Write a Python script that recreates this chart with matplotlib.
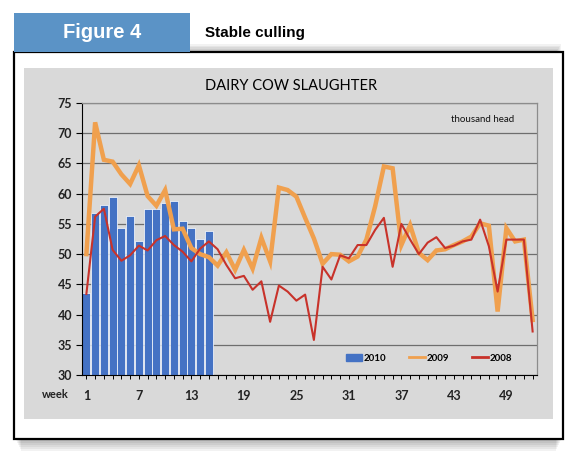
import matplotlib
matplotlib.use("Agg")
import matplotlib.pyplot as plt
from matplotlib.patches import Rectangle
from matplotlib.lines import Line2D

W, H = 575, 463

weeks = list(range(1, 53))
weeks_2010 = list(range(1, 16))
cull_2010 = [43.6, 56.8, 58.2, 59.5, 54.4, 56.3, 52.1, 57.4, 57.4, 58.5,
             58.8, 55.5, 54.4, 52.5, 53.8]
cull_2009 = [50.0, 71.8, 65.6, 65.3, 63.2, 61.6, 64.7, 59.6, 58.0, 60.6,
             54.1, 54.2, 51.0, 50.0, 49.5, 48.1, 50.3, 47.4, 50.7, 47.6,
             52.7, 48.8, 61.0, 60.6, 59.5, 56.0, 52.6, 48.4, 50.0, 49.9,
             48.8, 49.6, 52.4, 57.9, 64.5, 64.2, 51.5, 54.8, 50.2, 49.0,
             50.6, 50.8, 51.5, 52.1, 52.9, 55.1, 54.7, 40.5, 54.3, 52.1,
             52.4, 39.1]
cull_2008 = [43.4, 56.2, 57.5, 50.7, 48.9, 49.8, 51.4, 50.6, 52.3, 53.0,
             51.5, 50.4, 48.8, 50.9, 52.1, 50.8, 48.2, 46.0, 46.4, 44.1,
             45.5, 38.8, 44.8, 43.8, 42.3, 43.3, 35.8, 47.9, 45.8, 49.8,
             49.3, 51.5, 51.5, 54.0, 56.0, 47.9, 55.0, 52.4, 50.0, 51.9,
             52.8, 51.0, 51.4, 52.1, 52.4, 55.7, 51.3, 43.8, 52.4, 52.4,
             52.4, 37.2]
yticks = list(range(30, 80, 5))
xlabels = [1, 7, 13, 19, 25, 31, 37, 43, 49]

BLUE = "#4472C4"
ORANGE = "#F0A04E"
RED = "#C8322A"
PANEL = "#D9D9D9"


def box(x0, y0, x1, y1):
    # pixel box (top-left origin) -> figure fraction rect args
    return (x0 / W, 1 - y1 / H), (x1 - x0) / W, (y1 - y0) / H


def add_rect(x0, y0, x1, y1, **kw):
    xy, w, h = box(x0, y0, x1, y1)
    fig.add_artist(Rectangle(xy, w, h, transform=fig.transFigure,
                             zorder=-10, **kw))


fig = plt.figure(figsize=(W / 100, H / 100), dpi=100)
fig.patch.set_facecolor("white")

# soft shadow under the frame
for i in range(6):
    add_rect(16 + i, 44 + i * 1.5, 561 - i, 441 + i * 2,
             facecolor="#000000", alpha=0.05, lw=0)

add_rect(14, 52, 563, 439, facecolor="white", edgecolor="black", lw=1.6)

# header tab
add_rect(14, 13, 190, 52, facecolor="#5B93C6", lw=0)
fig.text(102 / W, 1 - 33 / H, "Figure 4", color="white", fontsize=14.5,
         fontweight="bold", family="Liberation Sans", ha="center", va="center")
fig.text(205 / W, 1 - 33 / H, "Stable culling", color="black", fontsize=11,
         fontweight="bold", family="Liberation Sans", ha="left", va="center")

# chart panel
add_rect(24, 68, 553, 419, facecolor=PANEL, lw=0)

ax = fig.add_axes([82 / W, 1 - 375 / H, (537 - 82) / W, (375 - 103) / H])
ax.set_facecolor(PANEL)

ax.bar(weeks_2010, cull_2010, width=0.92, bottom=0, color=BLUE,
       edgecolor="white", linewidth=0.5, zorder=2)
ax.plot(weeks, cull_2009, color=ORANGE, lw=3.2, zorder=3,
        solid_joinstyle="miter")
ax.plot(weeks, cull_2008, color=RED, lw=1.5, zorder=4)

ax.set_xlim(0.5, 52.5)
ax.set_ylim(30, 75)
ax.set_yticks(yticks)
ax.set_xticks(weeks, minor=True)
ax.set_xticks(xlabels)
ax.set_xticklabels([str(v) for v in xlabels])
ax.yaxis.grid(True, color="#6E6E6E", lw=0.9, zorder=1)
ax.set_axisbelow(True)

for s in ("top", "right"):
    ax.spines[s].set_color("#8C8C8C")
    ax.spines[s].set_linewidth(0.9)
ax.spines["left"].set_color("black")
ax.spines["bottom"].set_color("black")

ax.tick_params(axis="y", length=4, width=0.8, labelsize=9, pad=3)
ax.tick_params(axis="x", which="both", length=3, width=0.7,
               labelsize=9, pad=8)
for lab in ax.get_xticklabels() + ax.get_yticklabels():
    lab.set_fontweight("bold")
    lab.set_family("Lato")
    lab.set_color("#222222")

fig.text(55 / W, 1 - 394 / H, "week", fontsize=8, family="Lato",
         fontweight="bold", ha="center", va="center", color="#222222")
fig.text(291 / W, 1 - 86 / H, "DAIRY COW SLAUGHTER", fontsize=10.5,
         family="Lato", ha="center", va="center", color="black")
ax.text(0.95, 0.94, "thousand head", transform=ax.transAxes, fontsize=7,
        family="Lato", ha="right", va="center", color="#111111")

handles = [Rectangle((0, 0), 1, 1, color=BLUE),
           Line2D([0], [0], color=ORANGE, lw=2),
           Line2D([0], [0], color=RED, lw=2)]
leg = ax.legend(handles, ["2010", "2009", "2008"], ncol=3, frameon=False,
                loc="center right", bbox_to_anchor=(0.955, 0.062),
                prop={"family": "Lato", "size": 7, "weight": "bold"},
                handlelength=1.6, handletextpad=0.15, columnspacing=2.4,
                borderpad=0)

fig.savefig("out.png", dpi=100)
